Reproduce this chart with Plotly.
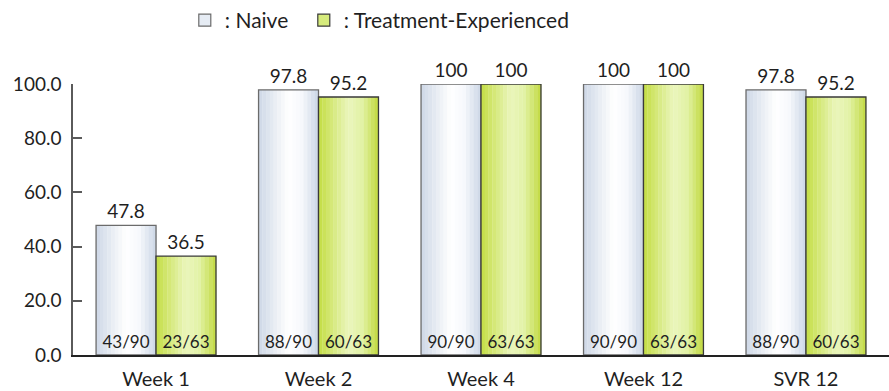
import plotly.graph_objects as go

# ---- data ----
categories = ["Week 1", "Week 2", "Week 4", "Week 12", "SVR 12"]
naive_values = [47.8, 97.8, 100, 100, 97.8]
treated_values = [36.5, 95.2, 100, 100, 95.2]
naive_labels = ["47.8", "97.8", "100", "100", "97.8"]
treated_labels = ["36.5", "95.2", "100", "100", "95.2"]
naive_fractions = ["43/90", "88/90", "90/90", "90/90", "88/90"]
treated_fractions = ["23/63", "60/63", "63/63", "63/63", "60/63"]
y_ticks = [0, 20, 40, 60, 80, 100]

# ---- style ----
FONT = "Lato"
TXT = "#1f1f1f"
W = 0.369          # bar width in category units
N = 16             # gradient strips per bar

naive_stops = [(0.0, (206, 216, 230)), (0.5, (255, 255, 255)), (0.72, (246, 248, 252)), (1.0, (203, 214, 229))]
green_stops = [(0.0, (196, 221, 68)), (0.5, (234, 246, 188)), (0.72, (226, 242, 166)), (1.0, (193, 217, 62))]


def interp(stops, t):
    for (t0, c0), (t1, c1) in zip(stops[:-1], stops[1:]):
        if t0 <= t <= t1:
            f = (t - t0) / (t1 - t0) if t1 > t0 else 0
            c = [round(a + (b - a) * f) for a, b in zip(c0, c1)]
            return "rgb(%d,%d,%d)" % tuple(c)
    return "rgb(%d,%d,%d)" % stops[-1][1]


xs = list(range(len(categories)))
fig = go.Figure()


def add_series(values, labels, fractions, stops, start, border, name, legend_fill, lw):
    # gradient strips
    for k in range(N):
        t = (k + 0.5) / N
        fig.add_trace(go.Bar(
            x=xs, y=values, width=W / N * 1.08, offset=start + k * W / N,
            marker=dict(color=interp(stops, t), line=dict(width=0)),
            showlegend=False, hoverinfo="skip",
        ))
    # outline + value labels
    fig.add_trace(go.Bar(
        x=xs, y=values, width=W, offset=start,
        marker=dict(color="rgba(0,0,0,0)", line=dict(color=border, width=1.3)),
        text=labels, textposition="outside", cliponaxis=False,
        textfont=dict(family=FONT, size=19, color=TXT),
        showlegend=False, hoverinfo="skip",
    ))
    # fraction labels at bar bottom
    fig.add_trace(go.Bar(
        x=xs, y=values, width=W, offset=start,
        marker=dict(color="rgba(0,0,0,0)", line=dict(width=0)),
        text=fractions, textposition="inside", insidetextanchor="start",
        textangle=0, textfont=dict(family=FONT, size=17, color=TXT),
        showlegend=False, hoverinfo="skip",
    ))
    # legend entry
    fig.add_trace(go.Bar(
        x=[None], y=[None], name=name, legendwidth=lw,
        marker=dict(color=legend_fill, line=dict(color=border, width=1.2)),
        showlegend=True,
    ))


add_series(naive_values, naive_labels, naive_fractions, naive_stops, -W, "#6b6b6b", ": Naive", "#e6ecf4", 74)
add_series(treated_values, treated_labels, treated_fractions, green_stops, 0.0, "#3a3a3a", ": Treatment-Experienced", "#d6eb7c", 260)

fig.update_layout(
    width=889, height=391,
    margin=dict(l=73, r=0, t=83, b=36),
    barmode="overlay",
    plot_bgcolor="white", paper_bgcolor="white",
    font=dict(family=FONT, size=19, color=TXT),
    legend=dict(orientation="h", x=0.137, xanchor="left", y=1.235, yanchor="middle",
                font=dict(family=FONT, size=21, color=TXT), bgcolor="rgba(0,0,0,0)",
                traceorder="normal"),
    xaxis=dict(
        range=[-0.511, 4.511], tickmode="array", tickvals=xs, ticktext=categories,
        showgrid=False, zeroline=False, ticks="", showline=True,
        linecolor="#222222", linewidth=1.5, ticklabelstandoff=5,
        tickfont=dict(family=FONT, size=20, color=TXT),
    ),
    yaxis=dict(
        range=[0, 100], tickmode="array", tickvals=y_ticks, tickformat=".1f",
        showgrid=False, zeroline=False, showline=True, linecolor="#5a5a5a", linewidth=1.5,
        ticks="inside", ticklen=9, tickwidth=1.5, tickcolor="#5a5a5a", ticklabelstandoff=6,
        tickfont=dict(family=FONT, size=19, color=TXT),
    ),
)

fig.write_html("out.html")
